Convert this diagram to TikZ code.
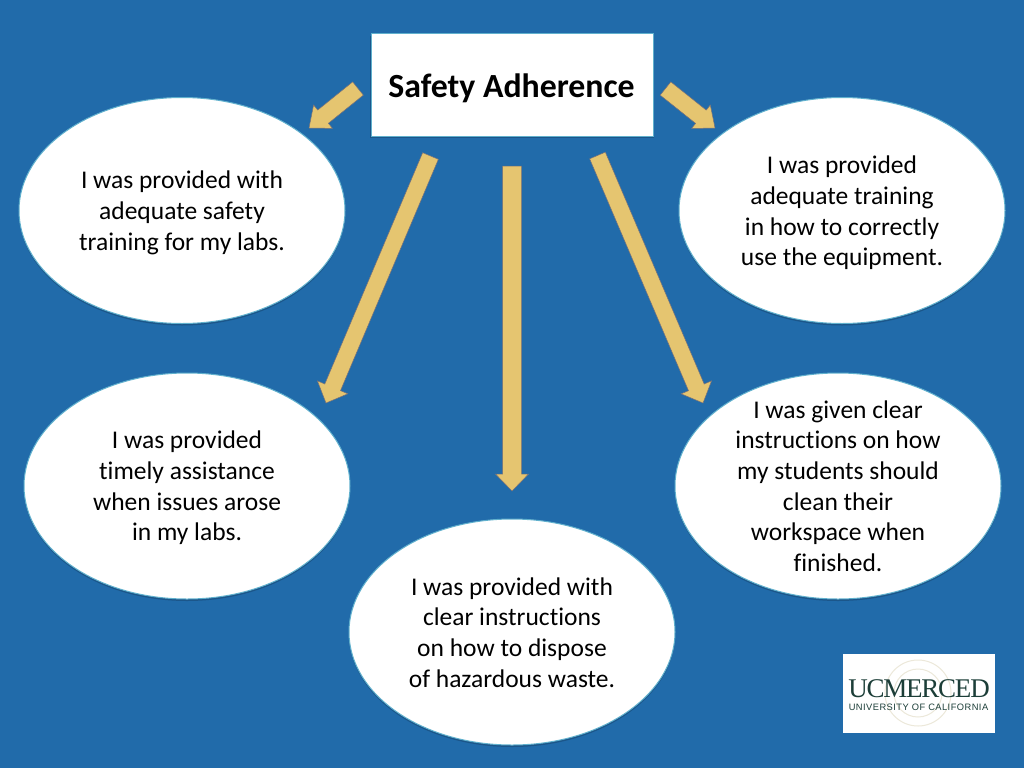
\documentclass[tikz,border=0pt]{standalone}
\usepackage{fontspec}
\setmainfont{Carlito}[Ligatures={NoCommon,TeX}]
\newfontfamily\logoserif{Liberation Serif}
\newfontfamily\logosans{Liberation Sans}
\usetikzlibrary{calc}
\definecolor{bgblue}{RGB}{33,107,170}
\definecolor{shadeblue}{RGB}{27,86,138}
\definecolor{arrowfill}{RGB}{229,197,112}
\definecolor{arrowedge}{RGB}{120,112,120}
\definecolor{rimblue}{RGB}{96,176,205}
\definecolor{logogreen}{RGB}{28,62,56}
\definecolor{sealtan}{RGB}{236,232,218}
% block arrow: #1 start, #2 tip, #3 shaft half width, #4 head half width, #5 head length
\newcommand{\blockarrow}[5]{%
  \draw[arrowbody] let \p1=($(#2)-(#1)$), \n1={atan2(\y1,\x1)}, \n2={veclen(\x1,\y1)} in
    [shift={(#1)}, rotate=\n1]
    (0pt,-#3pt) -- (\n2-#5,-#3pt)
    -- (\n2-#5,-#4pt) -- (\n2,0pt)
    -- (\n2-#5,#4pt) -- (\n2-#5,#3pt)
    -- (0pt,#3pt) -- cycle;}
\tikzset{
  x=1pt,y=-1pt,
  arrowbody/.style={fill=arrowfill,draw=arrowedge,line width=0.5pt,line join=miter},
  bubble/.style={draw=rimblue,line width=1pt,fill=white},
  bubbletext/.style={align=center,font=\fontsize{25.5}{30.7}\selectfont,text=black,inner sep=0pt},
  titlebox/.style={draw=rimblue,line width=1pt,fill=white,minimum width=282pt,minimum height=102pt,inner sep=0pt},
  titletext/.style={inner sep=0pt,font=\bfseries\fontsize{33.8}{38}\selectfont,text=black},
}
\begin{document}
\begin{tikzpicture}
\useasboundingbox (0,0) rectangle (1024,768);
\fill[bgblue] (0,0) rectangle (1024,768);
% soft shadows
\foreach \cx/\cy in {182/210.5,842/210.5,187/486,838/486,512/632}
  \fill[shadeblue] (\cx,\cy+2) ellipse [x radius=163,y radius=113];
\fill[shadeblue] (370,36) rectangle (654,138);
% title
\node[titlebox] (title) at (512,85) {};
\node[titletext] (titlet) at (511.5,88) {Safety Adherence};
% bubbles
\foreach \nm/\cx/\cy in {tl/182/210.5,tr/842/210.5,ml/187/486,mr/838/486,bt/512/632}{
  \draw[bubble] (\cx,\cy) ellipse [x radius=163,y radius=113];
  \coordinate (\nm) at (\cx,\cy);
}
\node[bubbletext] (ttl) at (182,213) {I was provided with\\adequate safety\\training for my labs.};
\node[bubbletext] (ttr) at (842,213) {I was provided\\adequate training\\in how to correctly\\use the equipment.};
\node[bubbletext] (tml) at (187,488) {I was provided\\timely assistance\\when issues arose\\in my labs.};
\node[bubbletext] (tmr) at (838,486) {I was given clear\\instructions on how\\my students should\\clean their\\workspace when\\finished.};
\node[bubbletext] (tbt) at (512,632.5) {I was provided with\\clear instructions\\on how to dispose\\of hazardous waste.};
% arrow ends
\coordinate (a1s) at (358,88.5);   \coordinate (a1t) at (309,128);
\coordinate (a2s) at (665.5,88.5); \coordinate (a2t) at (715,128);
\coordinate (a3s) at (430.5,156);  \coordinate (a3t) at (326,403);
\coordinate (a4s) at (512,166);    \coordinate (a4t) at (512,491);
\coordinate (a5s) at (597.5,155.5);\coordinate (a5t) at (703,403);
\blockarrow{a1s}{a1t}{8.5}{15}{18}
\blockarrow{a2s}{a2t}{8.5}{15}{18}
\blockarrow{a3s}{a3t}{8.5}{16.5}{17}
\blockarrow{a4s}{a4t}{9.5}{16.5}{17}
\blockarrow{a5s}{a5t}{8.5}{16.5}{17}
% logo
\fill[white] (843,654) rectangle (995,733);
\draw[sealtan,line width=1pt] (918,693) circle [radius=33];
\draw[sealtan,line width=1pt] (918,693) circle [radius=24];
\node[inner sep=0pt,text=logogreen] (logoa) at (919,689) {\logoserif\fontsize{27}{27}\selectfont\addfontfeature{LetterSpace=-4.5}UCMERCED};
\node[inner sep=0pt,text=logogreen] (logob) at (918.5,707) {\logosans\fontsize{9.3}{10}\selectfont\addfontfeature{LetterSpace=5}UNIVERSITY OF CALIFORNIA};
\end{tikzpicture}
\end{document}
